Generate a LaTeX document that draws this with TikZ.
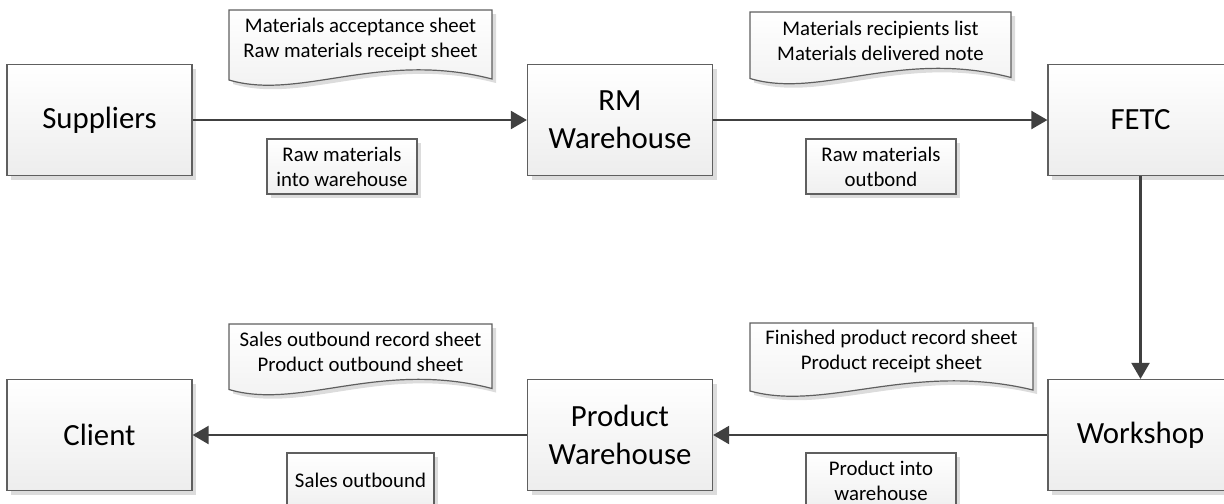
\documentclass[tikz,border=0pt]{standalone}
\usepackage{fontspec}
\setmainfont{Carlito}
\usetikzlibrary{arrows.meta,shadows}
\definecolor{edge}{HTML}{5F5F5F}
\definecolor{flow}{HTML}{404040}
\definecolor{shade}{HTML}{DCDCDC}
\tikzset{
  softshadow/.style={drop shadow={shadow xshift=2pt, shadow yshift=-2pt, fill=shade, opacity=1}},
  unit/.style={draw=edge, line width=0.6pt, top color=white, bottom color=black!7, softshadow,
    minimum width=92.5pt, minimum height=55.5pt, align=center, inner sep=0pt,
    font=\fontsize{15.4}{18.8}\selectfont},
  tag/.style={draw=edge, line width=0.6pt, top color=white, bottom color=black!6, softshadow,
    minimum width=75pt, minimum height=27.5pt, align=center, inner sep=0pt,
    font=\fontsize{10.4}{12.5}\selectfont},
  doctext/.style={align=center, inner sep=0pt, font=\fontsize{10.4}{12.5}\selectfont},
  docsheet/.style={draw=edge, line width=0.6pt, top color=white, bottom color=black!6, softshadow},
  flowline/.style={draw=flow, line width=1.1pt, -{Triangle[length=8pt,width=9pt]}},
}
% document symbol: left, top, right, level of the wavy bottom's ends
\newcommand\drawdoc[4]{%
  \pgfmathsetmacro\docw{#3-#1}%
  \path[docsheet] (#1,#2) -- (#3,#2) -- (#3,#4)
    .. controls ({#1+0.574*\docw},{#4-29}) and ({#1+0.27*\docw},{#4+22}) .. (#1,{#4+1}) -- cycle;
}
\begin{document}
\begin{tikzpicture}[x=0.5pt, y=-0.5pt]
  \useasboundingbox (0,0) rectangle (1224,503);
  \clip (0,0) rectangle (1224,503);

  % process units
  \node[unit] (sup)  at (99.5,120)  {Suppliers};
  \node[unit] (rm)   at (620,120)   {RM\\Warehouse};
  \node[unit] (fetc) at (1140.5,120) {FETC};
  \node[unit] (cli)  at (99.5,435)  {Client};
  \node[unit] (pw)   at (620,435)   {Product\\Warehouse};
  \node[unit] (work) at (1140.5,435) {Workshop};

  % documents accompanying each flow
  \drawdoc{229}{10}{492}{79}
  \node[doctext] (d1) at (360.5,39.5) {Materials acceptance sheet\\Raw materials receipt sheet};
  \drawdoc{750}{12}{1011}{77.5}
  \node[doctext] (d2) at (880.5,40.5) {Materials recipients list\\Materials delivered note};
  \drawdoc{229}{324}{492}{388.5}
  \node[doctext] (d3) at (360.5,351.5) {Sales outbound record sheet\\Product outbound sheet};
  \drawdoc{750}{323}{1033}{390}
  \node[doctext] (d4) at (891.5,351) {Finished product record sheet\\Product receipt sheet};

  % operation tags
  \node[tag] (t1) at (342,166.5) {Raw materials\\into warehouse};
  \node[tag] (t2) at (881,166.5) {Raw materials\\outbond};
  \node[tag, minimum width=73.5pt] (t3) at (360.5,480.5) {Sales outbound};
  \node[tag] (t4) at (881,480.5) {Product into\\warehouse};

  % material flow
  \draw[flowline] (sup) -- (rm);
  \draw[flowline] (rm) -- (fetc);
  \draw[flowline] (fetc) -- (work);
  \draw[flowline] (work) -- (pw);
  \draw[flowline] (pw) -- (cli);
\end{tikzpicture}
\end{document}
